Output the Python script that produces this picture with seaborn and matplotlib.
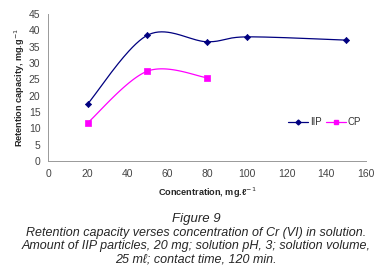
import numpy as np
import matplotlib
matplotlib.use('Agg')
import matplotlib.pyplot as plt
import seaborn as sns
from matplotlib.lines import Line2D

# datos
iip_x = [20, 50, 80, 100, 150]
iip_y = [17.5, 38.5, 36.5, 38.0, 37.0]
cp_x = [20, 50, 80]
cp_y = [11.7, 27.5, 25.5]

x_ticks = [0, 20, 40, 60, 80, 100, 120, 140, 160]
y_ticks = [0, 5, 10, 15, 20, 25, 30, 35, 40, 45]

caption = ["Retention capacity verses concentration of Cr (VI) in solution.",
           "Amount of IIP particles, 20 mg; solution pH, 3; solution volume,",
           "25 m\u2113; contact time, 120 min."]


def smooth(xs, ys, n=40):
    # curva suavizada tipo Excel (Catmull-Rom / Bezier)
    xs = np.asarray(xs, float)
    ys = np.asarray(ys, float)
    px = np.concatenate([[xs[0]], xs, [xs[-1]]])
    py = np.concatenate([[ys[0]], ys, [ys[-1]]])
    outx, outy = [], []
    for i in range(1, len(px) - 2):
        p0 = np.array([px[i], py[i]])
        p3 = np.array([px[i + 1], py[i + 1]])
        p1 = p0 + (np.array([px[i + 1], py[i + 1]]) - np.array([px[i - 1], py[i - 1]])) / 6
        p2 = p3 - (np.array([px[i + 2], py[i + 2]]) - np.array([px[i], py[i]])) / 6
        t = np.linspace(0, 1, n)[:, None]
        b = (1 - t) ** 3 * p0 + 3 * (1 - t) ** 2 * t * p1 + 3 * (1 - t) * t ** 2 * p2 + t ** 3 * p3
        outx.extend(b[:, 0])
        outy.extend(b[:, 1])
    return outx, outy


sns.set_style('white')
plt.rcParams['font.family'] = ['Liberation Sans', 'DejaVu Sans']

fig = plt.figure(figsize=(3.87, 2.73), dpi=100, facecolor='white')
ax = fig.add_axes([48 / 387, 1 - 161 / 273, (366 - 48) / 387, (161 - 14) / 273])

navy = '#000080'
pink = '#ff00ff'

sx, sy = smooth(iip_x, iip_y)
ax.plot(sx, sy, color=navy, lw=0.9)
sns.scatterplot(x=iip_x, y=iip_y, ax=ax, marker='D', s=10, color=navy, edgecolor=navy, linewidth=0.5)
sx, sy = smooth(cp_x, cp_y)
ax.plot(sx, sy, color=pink, lw=0.9)
sns.scatterplot(x=cp_x, y=cp_y, ax=ax, marker='s', s=20, color=pink, edgecolor=pink, linewidth=0.5)

ax.set_xlim(0, 160)
ax.set_ylim(0, 45)
ax.set_xticks(x_ticks)
ax.set_yticks(y_ticks)
ax.tick_params(axis='both', labelsize=7.5, colors='#999999', length=2.5, width=0.6,
               direction='out', pad=3)
ax.tick_params(axis='both', labelcolor='#444444')
for s in ['top', 'right']:
    ax.spines[s].set_visible(False)
for s in ['left', 'bottom']:
    ax.spines[s].set_color('#999999')
    ax.spines[s].set_linewidth(0.7)

ax.set_xlabel('Concentration, mg.\u2113$^{-1}$', fontsize=6.6, fontweight='bold', labelpad=5)
ax.set_ylabel('Retention capacity, mg.g$^{-1}$', fontsize=6.6, fontweight='bold', labelpad=1)

handles = [Line2D([], [], color=navy, lw=0.9, marker='D', ms=2.5),
           Line2D([], [], color=pink, lw=0.9, marker='s', ms=3.5)]
ax.legend(handles, ['IIP', 'CP'], loc='center', bbox_to_anchor=(0.87, 0.265), ncol=2,
          frameon=False, fontsize=7, handlelength=2.0, columnspacing=0.5, handletextpad=0.2,
          labelcolor='#333333')

# pie de figura
fig.text(196 / 387, 1 - 222 / 273, 'Figure 9', ha='center', va='baseline', fontsize=9.5, style='italic')
for i, line in enumerate(caption):
    fig.text(196 / 387, 1 - (236 + 13.5 * i) / 273, line, ha='center', va='baseline',
             fontsize=9, style='italic')

fig.savefig('out.png', dpi=100, facecolor='white')
